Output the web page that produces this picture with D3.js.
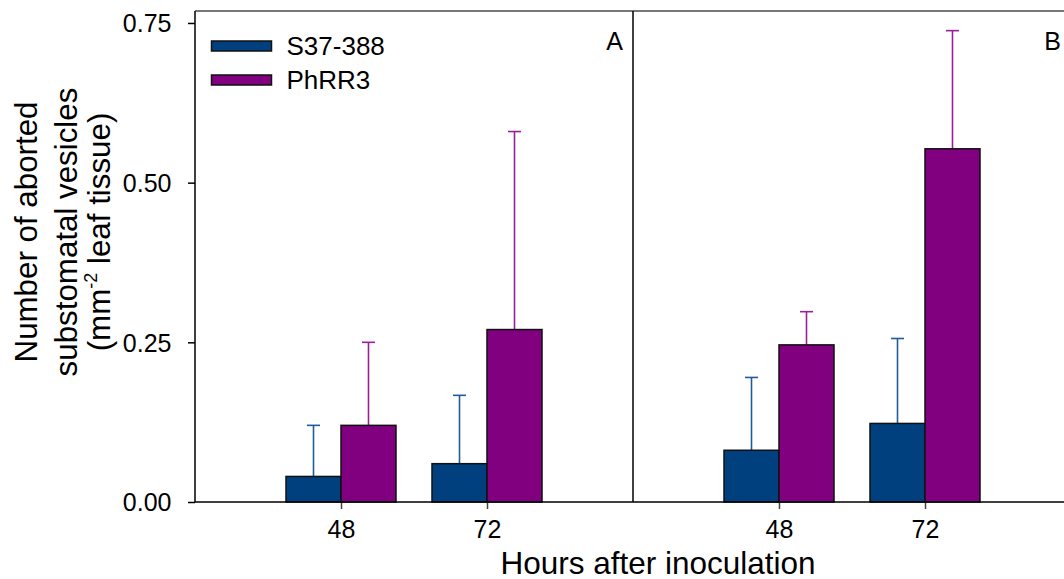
<!DOCTYPE html>
<html><head><meta charset="utf-8">
<script src="https://cdn.jsdelivr.net/npm/d3@7"></script>
<style>
body{margin:0;background:#fff;}
svg{display:block;font-family:"Liberation Sans",Arial,sans-serif;}
</style></head>
<body>
<svg id="chart" width="1064" height="579"></svg>
<script>
const hours = [48, 72];
const seriesNames = ["S37-388", "PhRR3"];
const panelLabels = ["A", "B"];
// Panel A
const aS37 = [0.040, 0.060];
const aS37Err = [0.080, 0.107];
const aPhRR3 = [0.120, 0.270];
const aPhRR3Err = [0.130, 0.310];
// Panel B
const bS37 = [0.081, 0.123];
const bS37Err = [0.114, 0.133];
const bPhRR3 = [0.246, 0.553];
const bPhRR3Err = [0.052, 0.185];
const yTicks = [0, 0.25, 0.5, 0.75];

const fills = ["#00407f", "#800080"];
const errColors = ["#1f5c99", "#9a1f9a"];

const svg = d3.select("#chart");
const plotLeft = 195, plotTop = 11, plotBottom = 502, panelW = 438;
const y = d3.scaleLinear().domain([0, 0.75]).range([plotBottom, plotBottom - 0.75 * 638.7]);

const panels = [
  {label: "A", s: [aS37, aPhRR3], e: [aS37Err, aPhRR3Err]},
  {label: "B", s: [bS37, bPhRR3], e: [bS37Err, bPhRR3Err]}
];

const barW = 55, capW = 13;

panels.forEach((p, pi) => {
  const x0 = plotLeft + pi * panelW;
  const x = d3.scaleLinear().domain([24, 96]).range([x0, x0 + panelW]);
  const g = svg.append("g");
  const ax = d3.axisBottom(x).tickValues(hours).tickSize(7).tickFormat(d3.format("d"));
  const axg = svg.append("g").attr("transform", `translate(0,${plotBottom})`).call(ax);
  axg.select(".domain").remove();
  axg.selectAll(".tick line").attr("stroke", "#444").attr("stroke-width", 1.5);
  axg.selectAll(".tick text").attr("font-size", 25).attr("font-family", "Liberation Sans, Arial, sans-serif")
     .attr("fill", "#000").attr("dy", "0").attr("y", 35.5);

  p.s.forEach((vals, si) => {
    const errs = p.e[si];
    hours.forEach((h, i) => {
      const bx = si === 0 ? x(h) - barW : x(h);
      const cx = bx + barW / 2;
      g.append("line").attr("x1", cx).attr("x2", cx)
        .attr("y1", y(vals[i])).attr("y2", y(vals[i] + errs[i]))
        .attr("stroke", errColors[si]).attr("stroke-width", 1.6);
      g.append("line").attr("x1", cx - capW / 2).attr("x2", cx + capW / 2)
        .attr("y1", y(vals[i] + errs[i])).attr("y2", y(vals[i] + errs[i]))
        .attr("stroke", errColors[si]).attr("stroke-width", 1.6);
      g.append("rect").attr("x", bx).attr("width", barW)
        .attr("y", y(vals[i])).attr("height", y(0) - y(vals[i]))
        .attr("fill", fills[si]).attr("stroke", "#111").attr("stroke-width", 1.5);
    });
  });

  svg.append("text").attr("x", x0 + panelW - 10).attr("y", 50)
    .attr("text-anchor", "end").attr("font-size", 25).text(panelLabels[pi]);
});

svg.append("line").attr("x1", plotLeft).attr("x2", 1064).attr("y1", plotTop).attr("y2", plotTop)
  .attr("stroke", "#777").attr("stroke-width", 2);
svg.append("line").attr("x1", plotLeft + panelW).attr("x2", plotLeft + panelW).attr("y1", plotTop).attr("y2", plotBottom)
  .attr("stroke", "#000").attr("stroke-width", 1.5);
svg.append("line").attr("x1", plotLeft).attr("x2", 1064).attr("y1", plotBottom).attr("y2", plotBottom)
  .attr("stroke", "#000").attr("stroke-width", 1.5);

const ay = d3.axisLeft(y).tickValues(yTicks).tickSize(7).tickFormat(d3.format(".2f"));
const ayg = svg.append("g").attr("transform", `translate(${plotLeft},0)`).call(ay);
ayg.select(".domain").attr("d", `M0,${plotTop}V${plotBottom}`).attr("stroke", "#000").attr("stroke-width", 1.5);
ayg.selectAll(".tick line").attr("stroke", "#000").attr("stroke-width", 1.5);
ayg.selectAll(".tick text").attr("font-size", 25).attr("font-family", "Liberation Sans, Arial, sans-serif")
   .attr("fill", "#000").attr("x", -23.5).attr("dy", "0.35em");

const leg = svg.append("g");
seriesNames.forEach((n, i) => {
  leg.append("rect").attr("x", 211.5).attr("y", 41 + i * 34).attr("width", 60).attr("height", 10)
    .attr("fill", fills[i]).attr("stroke", "#111").attr("stroke-width", 1.5);
  leg.append("text").attr("x", 286.5).attr("y", 55 + i * 33.5)
    .attr("font-size", 26).text(n);
});

svg.append("text").attr("x", 658).attr("y", 573.5).attr("text-anchor", "middle")
  .attr("font-size", 31.5).text("Hours after inoculation");

const yt = svg.append("g").attr("transform", "translate(0,232)");
yt.append("text").attr("transform", "translate(37,0) rotate(-90)").attr("text-anchor", "middle")
  .attr("font-size", 31.3).text("Number of aborted");
yt.append("text").attr("transform", "translate(77,0) rotate(-90)").attr("text-anchor", "middle")
  .attr("font-size", 31.3).text("substomatal vesicles");
const t3 = yt.append("text").attr("transform", "translate(110,0) rotate(-90)").attr("text-anchor", "middle")
  .attr("font-size", 31.3);
t3.append("tspan").text("(mm");
t3.append("tspan").attr("font-size", 18).attr("dy", -13).text("-2");
t3.append("tspan").attr("dy", 13).text(" leaf tissue)");
</script>
</body></html>
